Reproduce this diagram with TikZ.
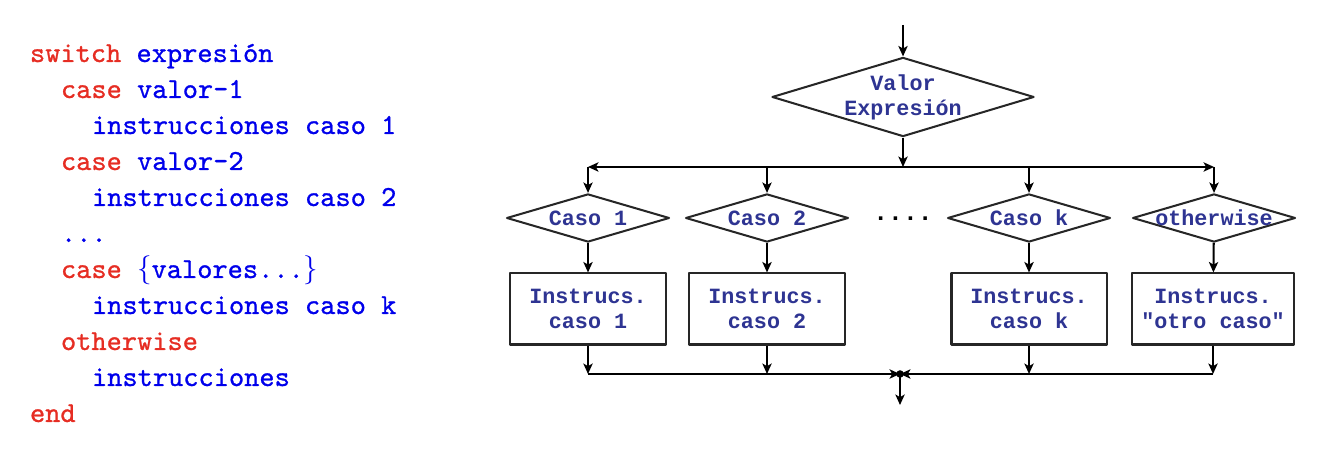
\documentclass[tikz,border=0pt]{standalone}
\usepackage{fontspec}
\newfontfamily\courier{Liberation Mono}
\newfontfamily\codefont{Latin Modern Mono}[FakeBold=0.9]
\usetikzlibrary{shapes.geometric,arrows.meta}
\definecolor{navy}{RGB}{46,52,146}
\definecolor{kwred}{RGB}{230,45,35}
\definecolor{kwblue}{RGB}{0,0,235}
\newcommand{\kw}[1]{\textcolor{kwred}{#1}}
\begin{document}
\begin{tikzpicture}[x=0.345pt, y=-0.345pt, line width=0.7pt, line join=round, >={Stealth[length=3.6pt,width=3.2pt,inset=0.9pt]},
	code/.style={anchor=base west, inner sep=0pt, font=\codefont, text=kwblue},
	flow/.style={draw=black!85, text=navy, font=\courier\bfseries\fontsize{7.5}{8.6}\selectfont, align=center},
	dec/.style={flow, diamond, inner sep=-2pt, aspect=3.4, minimum width=56.2pt, minimum height=16.6pt},
	bigdec/.style={flow, diamond, inner sep=-2pt, aspect=3.3, minimum width=90.4pt, minimum height=27.3pt},
	instr/.style={flow, rectangle, minimum width=53.5pt, minimum height=24.5pt}]
	\useasboundingbox (0,0) rectangle (1340,470);
	% Código
	\node[code] (l1) at (29,62) {\kw{switch} expresión};
	\node[code] (l2) at (60,98) {\kw{case} valor-1};
	\node[code] (l3) at (91,134) {instrucciones caso 1};
	\node[code] (l4) at (60,170) {\kw{case} valor-2};
	\node[code] (l5) at (91,206) {instrucciones caso 2};
	\node[code] (l6) at (60,242) {...};
	\node[code] (l7) at (60,278) {\kw{case} $\{$valores...$\}$};
	\node[code] (l8) at (91,314) {instrucciones caso k};
	\node[code] (l9) at (60,350) {\kw{otherwise}};
	\node[code] (l10) at (91,386) {instrucciones};
	\node[code] (l11) at (29,422) {\kw{end}};
	% Diagrama
	\coordinate (start) at (903,25);
	\coordinate (split) at (903,167);
	\coordinate (join) at (900,374);
	\coordinate (stop) at (900,405);
	\node[bigdec] (val) at (903,97) {Valor\\Expresión};
	\node[dec] (c1) at (588,218) {Caso 1};
	\node[dec] (c2) at (767,218) {Caso 2};
	\node[dec] (ck) at (1029,218) {Caso k};
	\node[dec] (cot) at (1214,218) {otherwise};
	\node[font=\courier\bfseries\fontsize{8.5}{10}\selectfont] (dots) at (903,219) {....};
	\node[instr] (b1) at (588,309) {Instrucs.\\caso 1};
	\node[instr] (b2) at (767,309) {Instrucs.\\caso 2};
	\node[instr] (bk) at (1029,309) {Instrucs.\\caso k};
	\node[instr] (bot) at (1213,309) {Instrucs.\\"otro caso"};
	\draw[->] (start) -- (val);
	\draw[->] (val) -- (split);
	\draw[->] (split) -- (c1 |- split);
	\draw[->] (split) -- (cot |- split);
	\draw[->] (c1 |- split) -- (c1);
	\draw[->] (c2 |- split) -- (c2);
	\draw[->] (ck |- split) -- (ck);
	\draw[->] (cot |- split) -- (cot);
	\draw[->] (c1) -- (b1);
	\draw[->] (c2) -- (b2);
	\draw[->] (ck) -- (bk);
	\draw[->] (cot) -- (bot);
	\draw[->] (b1) -- (b1 |- join);
	\draw[->] (b2) -- (b2 |- join);
	\draw[->] (bk) -- (bk |- join);
	\draw[->] (bot) -- (bot |- join);
	\draw[->] (b1 |- join) -- (join);
	\draw[->] (bot |- join) -- (join);
	\draw[->] (join) -- (stop);
	% Punto de unión
	\fill (join) circle (1.3pt);
\end{tikzpicture}
\end{document}
